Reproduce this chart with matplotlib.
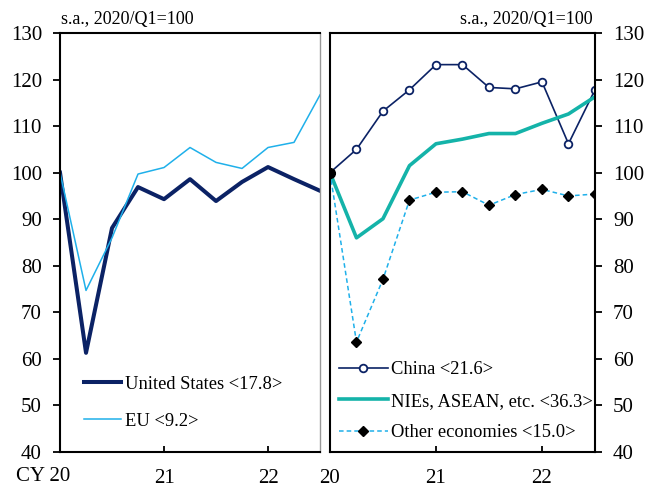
import numpy as np
import matplotlib
matplotlib.use("Agg")
import matplotlib.pyplot as plt

plt.rcParams['font.family'] = ['Liberation Serif', 'DejaVu Serif']

# quarters 2020Q1 .. 2022Q3
quarters = np.arange(11)
us = [100, 61.3, 88.1, 96.9, 94.3, 98.6, 93.9, 98.0, 101.2, 98.6, 96.1]
eu = [100, 74.7, 86.0, 99.7, 101.1, 105.4, 102.2, 100.9, 105.4, 106.5, 116.7]
china = [100, 105.0, 113.2, 117.8, 123.2, 123.2, 118.3, 118.0, 119.5, 106.2, 117.8]
nies = [100, 86.0, 90.1, 101.5, 106.2, 107.2, 108.4, 108.4, 110.6, 112.6, 116.3]
other = [100, 63.6, 77.1, 94.1, 95.8, 95.9, 93.0, 95.3, 96.4, 95.0, 95.4]

left_labels = ["United States <17.8>", "EU <9.2>"]
right_labels = ["China <21.6>", "NIEs, ASEAN, etc. <36.3>", "Other economies <15.0>"]
year_ticks = [0, 4, 8]
yticks = np.arange(40, 131, 10)

navy = '#0b2265'
light = '#1fb0ea'
teal = '#14b3a9'

fig = plt.figure(figsize=(6.46, 4.87), dpi=100)
axl = fig.add_axes([0.0929, 0.0719, 0.4025, 0.8604])
axr = fig.add_axes([0.5108, 0.0719, 0.4102, 0.8604])

# left panel
axl.plot(quarters, us, color=navy, lw=2.9, label=left_labels[0])
axl.plot(quarters, eu, color=light, lw=1.1, label=left_labels[1])
axl.set_xlim(0, 10)
axl.set_ylim(40, 130)
axl.set_yticks(yticks)
axl.set_xticks(year_ticks)
axl.set_xticklabels(['', '21', '22'])
axl.tick_params(axis='y', direction='out', length=5, width=1.3, labelsize=15, pad=8)
axl.tick_params(axis='x', direction='in', length=4, width=1.3, labelsize=15, pad=12)
for s in ['left', 'bottom', 'top']:
    axl.spines[s].set_linewidth(1.5)
axl.spines['right'].set_color('#999999')
axl.spines['right'].set_linewidth(1.0)
axl.text(0.04, -0.037, 'CY 20', transform=axl.transAxes, ha='right', va='top', fontsize=15)
axl.text(0.005, 1.012, 's.a., 2020/Q1=100', transform=axl.transAxes, ha='left', va='bottom', fontsize=13)
axl.legend(loc='lower left', bbox_to_anchor=(0.03, 0.013), frameon=False, fontsize=13.3,
           handlelength=2.0, handletextpad=0.2, labelspacing=1.1)

# right panel
axr.plot(quarters, china, color=navy, lw=1.2, marker='o', ms=5.5, mfc='white', mec=navy, mew=1.3, label=right_labels[0])
axr.plot(quarters, nies, color=teal, lw=2.6, label=right_labels[1])
axr.plot(quarters, other, color=light, lw=1.1, ls=(0, (3, 2)), marker='D', ms=5, mfc='black', mec='black', label=right_labels[2])
axr.plot([0], [china[0]], marker='o', ms=7, color='black', zorder=5)
axr.set_xlim(0, 10)
axr.set_ylim(40, 130)
axr.set_yticks(yticks)
axr.yaxis.tick_right()
axr.set_xticks(year_ticks)
axr.set_xticklabels(['20', '21', '22'])
axr.tick_params(axis='y', direction='out', length=5, width=1.3, labelsize=15, pad=8)
axr.tick_params(axis='x', direction='in', length=4, width=1.3, labelsize=15, pad=12)
for s in axr.spines.values():
    s.set_linewidth(1.5)
axr.text(0.99, 1.012, 's.a., 2020/Q1=100', transform=axr.transAxes, ha='right', va='bottom', fontsize=13)
axr.legend(loc='lower left', bbox_to_anchor=(-0.03, -0.014), frameon=False, fontsize=13.3,
           handlelength=2.65, handletextpad=0.2, labelspacing=0.78)

fig.savefig('out.png', dpi=100)
